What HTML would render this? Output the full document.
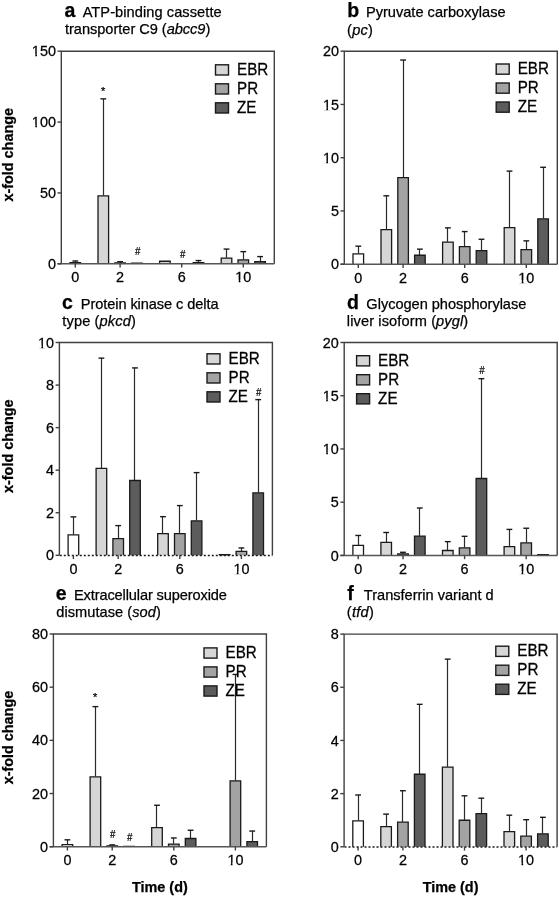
<!DOCTYPE html>
<html><head><meta charset="utf-8"><title>x-fold change charts</title>
<style>
html,body{margin:0;padding:0;background:#fff;}
svg{display:block;will-change:transform;}
text{font-family:"Liberation Sans", sans-serif;fill:#000;stroke:#000;stroke-width:0.25px;}
</style></head>
<body>
<svg width="559" height="898" viewBox="0 0 559 898">
<rect width="559" height="898" fill="#fff"/>
<text id="taL" x="64.53" y="16.9" font-size="19.5" font-weight="bold">a</text>
<text id="ta1" x="82.65" y="16.9" font-size="14.6" textLength="138.98" lengthAdjust="spacing">ATP-binding cassette</text>
<text id="ta2" x="64.99" y="33.7" font-size="14.6" xml:space="preserve" textLength="145.33" lengthAdjust="spacing"><tspan>transporter C9 (</tspan><tspan font-style="italic">abcc9</tspan><tspan>)</tspan></text>
<line x1="75.50" y1="262.38" x2="75.50" y2="260.98" stroke="#2a2a2a" stroke-width="1.2"/>
<line x1="72.40" y1="260.98" x2="78.20" y2="260.98" stroke="#1a1a1a" stroke-width="1.4"/>
<path d="M70.00,263.80 V262.68 H80.60 V263.80" fill="#ffffff" stroke="#1a1a1a" stroke-width="1.3"/>
<line x1="103.50" y1="195.48" x2="103.50" y2="98.84" stroke="#2a2a2a" stroke-width="1.2"/>
<line x1="100.40" y1="98.84" x2="106.20" y2="98.84" stroke="#1a1a1a" stroke-width="1.4"/>
<path d="M98.00,263.80 V195.78 H108.60 V263.80" fill="#d6d6d6" stroke="#1a1a1a" stroke-width="1.3"/>
<line x1="120.50" y1="262.67" x2="120.50" y2="261.69" stroke="#2a2a2a" stroke-width="1.2"/>
<line x1="117.20" y1="261.69" x2="123.00" y2="261.69" stroke="#1a1a1a" stroke-width="1.4"/>
<path d="M114.80,263.80 V262.97 H125.40 V263.80" fill="#a3a3a3" stroke="#1a1a1a" stroke-width="1.3"/>
<path d="M131.60,263.80 V263.11 H142.20 V263.80" fill="#5c5c5c" stroke="#1a1a1a" stroke-width="1.3"/>
<path d="M159.60,263.80 V261.27 H170.20 V263.80" fill="#d6d6d6" stroke="#1a1a1a" stroke-width="1.3"/>
<line x1="198.50" y1="262.38" x2="198.50" y2="260.56" stroke="#2a2a2a" stroke-width="1.2"/>
<line x1="195.60" y1="260.56" x2="201.40" y2="260.56" stroke="#1a1a1a" stroke-width="1.4"/>
<path d="M193.20,263.80 V262.68 H203.80 V263.80" fill="#5c5c5c" stroke="#1a1a1a" stroke-width="1.3"/>
<line x1="226.50" y1="257.85" x2="226.50" y2="249.08" stroke="#2a2a2a" stroke-width="1.2"/>
<line x1="223.60" y1="249.08" x2="229.40" y2="249.08" stroke="#1a1a1a" stroke-width="1.4"/>
<path d="M221.20,263.80 V258.15 H231.80 V263.80" fill="#d6d6d6" stroke="#1a1a1a" stroke-width="1.3"/>
<line x1="243.50" y1="259.55" x2="243.50" y2="251.63" stroke="#2a2a2a" stroke-width="1.2"/>
<line x1="240.40" y1="251.63" x2="246.20" y2="251.63" stroke="#1a1a1a" stroke-width="1.4"/>
<path d="M238.00,263.80 V259.85 H248.60 V263.80" fill="#a3a3a3" stroke="#1a1a1a" stroke-width="1.3"/>
<line x1="260.50" y1="261.39" x2="260.50" y2="256.59" stroke="#2a2a2a" stroke-width="1.2"/>
<line x1="257.20" y1="256.59" x2="263.00" y2="256.59" stroke="#1a1a1a" stroke-width="1.4"/>
<path d="M254.80,263.80 V261.69 H265.40 V263.80" fill="#5c5c5c" stroke="#1a1a1a" stroke-width="1.3"/>
<text x="103.10" y="95.3" font-size="11" text-anchor="middle">*</text>
<text transform="translate(137.60,254.7) scale(0.85,1)" font-size="11" font-style="italic" text-anchor="middle">#</text>
<text transform="translate(182.50,258.3) scale(0.85,1)" font-size="11" font-style="italic" text-anchor="middle">#</text>
<path d="M61.30,263.80 V51.20 H274.30 V263.80" fill="none" stroke="#404040" stroke-width="1.4"/>
<line x1="57.50" y1="263.80" x2="274.30" y2="263.80" stroke="#555" stroke-width="1.5"/>
<line x1="57.50" y1="263.80" x2="61.30" y2="263.80" stroke="#404040" stroke-width="1.4"/>
<g transform="translate(55.90,268.90) scale(1,1.04)"><text x="0" y="0" font-size="14.4" text-anchor="end">0</text></g>
<line x1="57.50" y1="192.93" x2="61.30" y2="192.93" stroke="#404040" stroke-width="1.4"/>
<g transform="translate(55.90,198.03) scale(1,1.04)"><text x="0" y="0" font-size="14.4" text-anchor="end">50</text></g>
<line x1="57.50" y1="122.07" x2="61.30" y2="122.07" stroke="#404040" stroke-width="1.4"/>
<g transform="translate(55.90,127.17) scale(1,1.04)"><text x="0" y="0" font-size="14.4" text-anchor="end">100</text><rect x="-23.93" y="-2.30" width="3.32" height="3.2" fill="#fff"/><rect x="-18.93" y="-2.30" width="3.11" height="3.2" fill="#fff"/></g>
<line x1="57.50" y1="51.20" x2="61.30" y2="51.20" stroke="#404040" stroke-width="1.4"/>
<g transform="translate(55.90,56.30) scale(1,1.04)"><text x="0" y="0" font-size="14.4" text-anchor="end">150</text><rect x="-23.93" y="-2.30" width="3.32" height="3.2" fill="#fff"/><rect x="-18.93" y="-2.30" width="3.11" height="3.2" fill="#fff"/></g>
<line x1="75.30" y1="263.80" x2="75.30" y2="267.60" stroke="#404040" stroke-width="1.4"/>
<g transform="translate(75.30,282.10) scale(1,1.04)"><text x="0" y="0" font-size="14.4" text-anchor="middle">0</text></g>
<line x1="120.10" y1="263.80" x2="120.10" y2="267.60" stroke="#404040" stroke-width="1.4"/>
<g transform="translate(120.10,282.10) scale(1,1.04)"><text x="0" y="0" font-size="14.4" text-anchor="middle">2</text></g>
<line x1="181.70" y1="263.80" x2="181.70" y2="267.60" stroke="#404040" stroke-width="1.4"/>
<g transform="translate(181.70,282.10) scale(1,1.04)"><text x="0" y="0" font-size="14.4" text-anchor="middle">6</text></g>
<line x1="243.30" y1="263.80" x2="243.30" y2="267.60" stroke="#404040" stroke-width="1.4"/>
<g transform="translate(243.30,282.10) scale(1,1.04)"><text x="0" y="0" font-size="14.4" text-anchor="middle">10</text><rect x="-7.91" y="-2.30" width="3.32" height="3.2" fill="#fff"/><rect x="-2.91" y="-2.30" width="3.11" height="3.2" fill="#fff"/></g>
<rect x="215.50" y="64.80" width="13" height="10.2" fill="#d6d6d6" stroke="#1a1a1a" stroke-width="1.4"/>
<text transform="translate(237.00,74.70) scale(1,1.04)" font-size="15.2">EBR</text>
<rect x="215.50" y="83.80" width="13" height="10.2" fill="#a3a3a3" stroke="#1a1a1a" stroke-width="1.4"/>
<text transform="translate(237.00,93.70) scale(1,1.04)" font-size="15.2">PR</text>
<rect x="215.50" y="102.80" width="13" height="10.2" fill="#5c5c5c" stroke="#1a1a1a" stroke-width="1.4"/>
<text transform="translate(237.00,112.70) scale(1,1.04)" font-size="15.2">ZE</text>
<text transform="translate(13.2,154.8) rotate(-90)" text-anchor="middle" font-size="14.4" font-weight="bold">x-fold change</text>
<text id="tbL" x="347.25" y="17.0" font-size="19.5" font-weight="bold">b</text>
<text id="tb1" x="365.90" y="17.0" font-size="14.6" textLength="139.66" lengthAdjust="spacing">Pyruvate carboxylase</text>
<text id="tb2" x="347.09" y="34.5" font-size="14.6" xml:space="preserve" textLength="25.73" lengthAdjust="spacing"><tspan>(</tspan><tspan font-style="italic">pc</tspan><tspan>)</tspan></text>
<line x1="358.50" y1="253.66" x2="358.50" y2="246.18" stroke="#2a2a2a" stroke-width="1.2"/>
<line x1="355.40" y1="246.18" x2="361.20" y2="246.18" stroke="#1a1a1a" stroke-width="1.4"/>
<path d="M353.00,264.20 V253.96 H363.60 V264.20" fill="#ffffff" stroke="#1a1a1a" stroke-width="1.3"/>
<line x1="386.50" y1="229.27" x2="386.50" y2="195.81" stroke="#2a2a2a" stroke-width="1.2"/>
<line x1="383.40" y1="195.81" x2="389.20" y2="195.81" stroke="#1a1a1a" stroke-width="1.4"/>
<path d="M381.00,264.20 V229.57 H391.60 V264.20" fill="#d6d6d6" stroke="#1a1a1a" stroke-width="1.3"/>
<line x1="403.50" y1="177.30" x2="403.50" y2="60.02" stroke="#2a2a2a" stroke-width="1.2"/>
<line x1="400.20" y1="60.02" x2="406.00" y2="60.02" stroke="#1a1a1a" stroke-width="1.4"/>
<path d="M397.80,264.20 V177.60 H408.40 V264.20" fill="#a3a3a3" stroke="#1a1a1a" stroke-width="1.3"/>
<line x1="419.50" y1="254.93" x2="419.50" y2="249.16" stroke="#2a2a2a" stroke-width="1.2"/>
<line x1="417.00" y1="249.16" x2="422.80" y2="249.16" stroke="#1a1a1a" stroke-width="1.4"/>
<path d="M414.60,264.20 V255.23 H425.20 V264.20" fill="#5c5c5c" stroke="#1a1a1a" stroke-width="1.3"/>
<line x1="447.50" y1="241.83" x2="447.50" y2="227.86" stroke="#2a2a2a" stroke-width="1.2"/>
<line x1="445.00" y1="227.86" x2="450.80" y2="227.86" stroke="#1a1a1a" stroke-width="1.4"/>
<path d="M442.60,264.20 V242.13 H453.20 V264.20" fill="#d6d6d6" stroke="#1a1a1a" stroke-width="1.3"/>
<line x1="464.50" y1="246.41" x2="464.50" y2="231.59" stroke="#2a2a2a" stroke-width="1.2"/>
<line x1="461.80" y1="231.59" x2="467.60" y2="231.59" stroke="#1a1a1a" stroke-width="1.4"/>
<path d="M459.40,264.20 V246.71 H470.00 V264.20" fill="#a3a3a3" stroke="#1a1a1a" stroke-width="1.3"/>
<line x1="481.50" y1="250.35" x2="481.50" y2="239.26" stroke="#2a2a2a" stroke-width="1.2"/>
<line x1="478.60" y1="239.26" x2="484.40" y2="239.26" stroke="#1a1a1a" stroke-width="1.4"/>
<path d="M476.20,264.20 V250.66 H486.80 V264.20" fill="#5c5c5c" stroke="#1a1a1a" stroke-width="1.3"/>
<line x1="509.50" y1="227.35" x2="509.50" y2="171.10" stroke="#2a2a2a" stroke-width="1.2"/>
<line x1="506.60" y1="171.10" x2="512.40" y2="171.10" stroke="#1a1a1a" stroke-width="1.4"/>
<path d="M504.20,264.20 V227.65 H514.80 V264.20" fill="#d6d6d6" stroke="#1a1a1a" stroke-width="1.3"/>
<line x1="526.50" y1="249.40" x2="526.50" y2="240.86" stroke="#2a2a2a" stroke-width="1.2"/>
<line x1="523.40" y1="240.86" x2="529.20" y2="240.86" stroke="#1a1a1a" stroke-width="1.4"/>
<path d="M521.00,264.20 V249.70 H531.60 V264.20" fill="#a3a3a3" stroke="#1a1a1a" stroke-width="1.3"/>
<line x1="543.50" y1="218.51" x2="543.50" y2="167.27" stroke="#2a2a2a" stroke-width="1.2"/>
<line x1="540.20" y1="167.27" x2="546.00" y2="167.27" stroke="#1a1a1a" stroke-width="1.4"/>
<path d="M537.80,264.20 V218.81 H548.40 V264.20" fill="#5c5c5c" stroke="#1a1a1a" stroke-width="1.3"/>
<path d="M344.30,264.20 V51.20 H557.30 V264.20" fill="none" stroke="#404040" stroke-width="1.4"/>
<line x1="340.50" y1="264.20" x2="557.30" y2="264.20" stroke="#555" stroke-width="1.5"/>
<line x1="340.50" y1="264.20" x2="344.30" y2="264.20" stroke="#404040" stroke-width="1.4"/>
<g transform="translate(338.90,269.30) scale(1,1.04)"><text x="0" y="0" font-size="14.4" text-anchor="end">0</text></g>
<line x1="340.50" y1="210.95" x2="344.30" y2="210.95" stroke="#404040" stroke-width="1.4"/>
<g transform="translate(338.90,216.05) scale(1,1.04)"><text x="0" y="0" font-size="14.4" text-anchor="end">5</text></g>
<line x1="340.50" y1="157.70" x2="344.30" y2="157.70" stroke="#404040" stroke-width="1.4"/>
<g transform="translate(338.90,162.80) scale(1,1.04)"><text x="0" y="0" font-size="14.4" text-anchor="end">10</text><rect x="-15.92" y="-2.30" width="3.32" height="3.2" fill="#fff"/><rect x="-10.92" y="-2.30" width="3.11" height="3.2" fill="#fff"/></g>
<line x1="340.50" y1="104.45" x2="344.30" y2="104.45" stroke="#404040" stroke-width="1.4"/>
<g transform="translate(338.90,109.55) scale(1,1.04)"><text x="0" y="0" font-size="14.4" text-anchor="end">15</text><rect x="-15.92" y="-2.30" width="3.32" height="3.2" fill="#fff"/><rect x="-10.92" y="-2.30" width="3.11" height="3.2" fill="#fff"/></g>
<line x1="340.50" y1="51.20" x2="344.30" y2="51.20" stroke="#404040" stroke-width="1.4"/>
<g transform="translate(338.90,56.30) scale(1,1.04)"><text x="0" y="0" font-size="14.4" text-anchor="end">20</text></g>
<line x1="358.30" y1="264.20" x2="358.30" y2="268.00" stroke="#404040" stroke-width="1.4"/>
<g transform="translate(358.30,282.50) scale(1,1.04)"><text x="0" y="0" font-size="14.4" text-anchor="middle">0</text></g>
<line x1="403.10" y1="264.20" x2="403.10" y2="268.00" stroke="#404040" stroke-width="1.4"/>
<g transform="translate(403.10,282.50) scale(1,1.04)"><text x="0" y="0" font-size="14.4" text-anchor="middle">2</text></g>
<line x1="464.70" y1="264.20" x2="464.70" y2="268.00" stroke="#404040" stroke-width="1.4"/>
<g transform="translate(464.70,282.50) scale(1,1.04)"><text x="0" y="0" font-size="14.4" text-anchor="middle">6</text></g>
<line x1="526.30" y1="264.20" x2="526.30" y2="268.00" stroke="#404040" stroke-width="1.4"/>
<g transform="translate(526.30,282.50) scale(1,1.04)"><text x="0" y="0" font-size="14.4" text-anchor="middle">10</text><rect x="-7.91" y="-2.30" width="3.32" height="3.2" fill="#fff"/><rect x="-2.91" y="-2.30" width="3.11" height="3.2" fill="#fff"/></g>
<rect x="496.20" y="64.00" width="13" height="10.2" fill="#d6d6d6" stroke="#1a1a1a" stroke-width="1.4"/>
<text transform="translate(517.70,73.90) scale(1,1.04)" font-size="15.2">EBR</text>
<rect x="496.20" y="83.00" width="13" height="10.2" fill="#a3a3a3" stroke="#1a1a1a" stroke-width="1.4"/>
<text transform="translate(517.70,92.90) scale(1,1.04)" font-size="15.2">PR</text>
<rect x="496.20" y="102.00" width="13" height="10.2" fill="#5c5c5c" stroke="#1a1a1a" stroke-width="1.4"/>
<text transform="translate(517.70,111.90) scale(1,1.04)" font-size="15.2">ZE</text>
<text id="tcL" x="62.06" y="309.0" font-size="19.5" font-weight="bold">c</text>
<text id="tc1" x="80.78" y="309.0" font-size="14.6" textLength="137.78" lengthAdjust="spacing">Protein kinase c delta</text>
<text id="tc2" x="62.30" y="325.8" font-size="14.6" xml:space="preserve" textLength="73.46" lengthAdjust="spacing"><tspan>type (</tspan><tspan font-style="italic">pkcd</tspan><tspan>)</tspan></text>
<line x1="73.50" y1="534.66" x2="73.50" y2="516.87" stroke="#2a2a2a" stroke-width="1.2"/>
<line x1="70.50" y1="516.87" x2="76.30" y2="516.87" stroke="#1a1a1a" stroke-width="1.4"/>
<path d="M68.10,555.30 V534.96 H78.70 V555.30" fill="#ffffff" stroke="#1a1a1a" stroke-width="1.3"/>
<line x1="101.50" y1="468.05" x2="101.50" y2="358.12" stroke="#2a2a2a" stroke-width="1.2"/>
<line x1="98.50" y1="358.12" x2="104.30" y2="358.12" stroke="#1a1a1a" stroke-width="1.4"/>
<path d="M96.10,555.30 V468.35 H106.70 V555.30" fill="#d6d6d6" stroke="#1a1a1a" stroke-width="1.3"/>
<line x1="118.50" y1="538.28" x2="118.50" y2="525.60" stroke="#2a2a2a" stroke-width="1.2"/>
<line x1="115.30" y1="525.60" x2="121.10" y2="525.60" stroke="#1a1a1a" stroke-width="1.4"/>
<path d="M112.90,555.30 V538.58 H123.50 V555.30" fill="#a3a3a3" stroke="#1a1a1a" stroke-width="1.3"/>
<line x1="134.50" y1="480.18" x2="134.50" y2="367.91" stroke="#2a2a2a" stroke-width="1.2"/>
<line x1="132.10" y1="367.91" x2="137.90" y2="367.91" stroke="#1a1a1a" stroke-width="1.4"/>
<path d="M129.70,555.30 V480.48 H140.30 V555.30" fill="#5c5c5c" stroke="#1a1a1a" stroke-width="1.3"/>
<line x1="162.50" y1="533.38" x2="162.50" y2="516.66" stroke="#2a2a2a" stroke-width="1.2"/>
<line x1="160.10" y1="516.66" x2="165.90" y2="516.66" stroke="#1a1a1a" stroke-width="1.4"/>
<path d="M157.70,555.30 V533.68 H168.30 V555.30" fill="#d6d6d6" stroke="#1a1a1a" stroke-width="1.3"/>
<line x1="179.50" y1="533.38" x2="179.50" y2="505.59" stroke="#2a2a2a" stroke-width="1.2"/>
<line x1="176.90" y1="505.59" x2="182.70" y2="505.59" stroke="#1a1a1a" stroke-width="1.4"/>
<path d="M174.50,555.30 V533.68 H185.10 V555.30" fill="#a3a3a3" stroke="#1a1a1a" stroke-width="1.3"/>
<line x1="196.50" y1="520.61" x2="196.50" y2="472.61" stroke="#2a2a2a" stroke-width="1.2"/>
<line x1="193.70" y1="472.61" x2="199.50" y2="472.61" stroke="#1a1a1a" stroke-width="1.4"/>
<path d="M191.30,555.30 V520.91 H201.90 V555.30" fill="#5c5c5c" stroke="#1a1a1a" stroke-width="1.3"/>
<path d="M219.30,555.30 V554.75 H229.90 V555.30" fill="#d6d6d6" stroke="#1a1a1a" stroke-width="1.3"/>
<line x1="241.50" y1="551.04" x2="241.50" y2="547.94" stroke="#2a2a2a" stroke-width="1.2"/>
<line x1="238.50" y1="547.94" x2="244.30" y2="547.94" stroke="#1a1a1a" stroke-width="1.4"/>
<path d="M236.10,555.30 V551.34 H246.70 V555.30" fill="#a3a3a3" stroke="#1a1a1a" stroke-width="1.3"/>
<line x1="258.50" y1="492.52" x2="258.50" y2="399.62" stroke="#2a2a2a" stroke-width="1.2"/>
<line x1="255.30" y1="399.62" x2="261.10" y2="399.62" stroke="#1a1a1a" stroke-width="1.4"/>
<path d="M252.90,555.30 V492.82 H263.50 V555.30" fill="#5c5c5c" stroke="#1a1a1a" stroke-width="1.3"/>
<text transform="translate(258.60,395.5) scale(0.85,1)" font-size="11" font-style="italic" text-anchor="middle">#</text>
<path d="M59.40,555.30 V342.50 H272.40 V555.30" fill="none" stroke="#404040" stroke-width="1.4"/>
<line x1="59.40" y1="555.60" x2="272.40" y2="555.60" stroke="#1a1a1a" stroke-width="1.5" stroke-dasharray="2 2" stroke-dashoffset="-0.4"/>
<line x1="55.60" y1="555.30" x2="59.40" y2="555.30" stroke="#404040" stroke-width="1.4"/>
<g transform="translate(54.00,560.40) scale(1,1.04)"><text x="0" y="0" font-size="14.4" text-anchor="end">0</text></g>
<line x1="55.60" y1="512.74" x2="59.40" y2="512.74" stroke="#404040" stroke-width="1.4"/>
<g transform="translate(54.00,517.84) scale(1,1.04)"><text x="0" y="0" font-size="14.4" text-anchor="end">2</text></g>
<line x1="55.60" y1="470.18" x2="59.40" y2="470.18" stroke="#404040" stroke-width="1.4"/>
<g transform="translate(54.00,475.28) scale(1,1.04)"><text x="0" y="0" font-size="14.4" text-anchor="end">4</text></g>
<line x1="55.60" y1="427.62" x2="59.40" y2="427.62" stroke="#404040" stroke-width="1.4"/>
<g transform="translate(54.00,432.72) scale(1,1.04)"><text x="0" y="0" font-size="14.4" text-anchor="end">6</text></g>
<line x1="55.60" y1="385.06" x2="59.40" y2="385.06" stroke="#404040" stroke-width="1.4"/>
<g transform="translate(54.00,390.16) scale(1,1.04)"><text x="0" y="0" font-size="14.4" text-anchor="end">8</text></g>
<line x1="55.60" y1="342.50" x2="59.40" y2="342.50" stroke="#404040" stroke-width="1.4"/>
<g transform="translate(54.00,347.60) scale(1,1.04)"><text x="0" y="0" font-size="14.4" text-anchor="end">10</text><rect x="-15.92" y="-2.30" width="3.32" height="3.2" fill="#fff"/><rect x="-10.92" y="-2.30" width="3.11" height="3.2" fill="#fff"/></g>
<line x1="73.40" y1="555.30" x2="73.40" y2="559.10" stroke="#404040" stroke-width="1.4"/>
<g transform="translate(73.40,573.60) scale(1,1.04)"><text x="0" y="0" font-size="14.4" text-anchor="middle">0</text></g>
<line x1="118.20" y1="555.30" x2="118.20" y2="559.10" stroke="#404040" stroke-width="1.4"/>
<g transform="translate(118.20,573.60) scale(1,1.04)"><text x="0" y="0" font-size="14.4" text-anchor="middle">2</text></g>
<line x1="179.80" y1="555.30" x2="179.80" y2="559.10" stroke="#404040" stroke-width="1.4"/>
<g transform="translate(179.80,573.60) scale(1,1.04)"><text x="0" y="0" font-size="14.4" text-anchor="middle">6</text></g>
<line x1="241.40" y1="555.30" x2="241.40" y2="559.10" stroke="#404040" stroke-width="1.4"/>
<g transform="translate(241.40,573.60) scale(1,1.04)"><text x="0" y="0" font-size="14.4" text-anchor="middle">10</text><rect x="-7.91" y="-2.30" width="3.32" height="3.2" fill="#fff"/><rect x="-2.91" y="-2.30" width="3.11" height="3.2" fill="#fff"/></g>
<rect x="207.00" y="353.80" width="13" height="10.2" fill="#d6d6d6" stroke="#1a1a1a" stroke-width="1.4"/>
<text transform="translate(228.50,363.70) scale(1,1.04)" font-size="15.2">EBR</text>
<rect x="207.00" y="372.80" width="13" height="10.2" fill="#a3a3a3" stroke="#1a1a1a" stroke-width="1.4"/>
<text transform="translate(228.50,382.70) scale(1,1.04)" font-size="15.2">PR</text>
<rect x="207.00" y="391.80" width="13" height="10.2" fill="#5c5c5c" stroke="#1a1a1a" stroke-width="1.4"/>
<text transform="translate(228.50,401.70) scale(1,1.04)" font-size="15.2">ZE</text>
<text transform="translate(13.2,446.2) rotate(-90)" text-anchor="middle" font-size="14.4" font-weight="bold">x-fold change</text>
<text id="tdL" x="347.12" y="309.0" font-size="19.5" font-weight="bold">d</text>
<text id="td1" x="366.37" y="309.0" font-size="14.6" textLength="159.97" lengthAdjust="spacing">Glycogen phosphorylase</text>
<text id="td2" x="346.86" y="326.1" font-size="14.6" xml:space="preserve" textLength="121.33" lengthAdjust="spacing"><tspan>liver isoform (</tspan><tspan font-style="italic">pygl</tspan><tspan>)</tspan></text>
<line x1="358.50" y1="545.07" x2="358.50" y2="535.47" stroke="#2a2a2a" stroke-width="1.2"/>
<line x1="355.30" y1="535.47" x2="361.10" y2="535.47" stroke="#1a1a1a" stroke-width="1.4"/>
<path d="M352.90,555.40 V545.37 H363.50 V555.40" fill="#ffffff" stroke="#1a1a1a" stroke-width="1.3"/>
<line x1="386.50" y1="541.99" x2="386.50" y2="532.49" stroke="#2a2a2a" stroke-width="1.2"/>
<line x1="383.30" y1="532.49" x2="389.10" y2="532.49" stroke="#1a1a1a" stroke-width="1.4"/>
<path d="M380.90,555.40 V542.29 H391.50 V555.40" fill="#d6d6d6" stroke="#1a1a1a" stroke-width="1.3"/>
<line x1="402.50" y1="553.70" x2="402.50" y2="552.29" stroke="#2a2a2a" stroke-width="1.2"/>
<line x1="400.10" y1="552.29" x2="405.90" y2="552.29" stroke="#1a1a1a" stroke-width="1.4"/>
<path d="M397.70,555.40 V554.00 H408.30 V555.40" fill="#a3a3a3" stroke="#1a1a1a" stroke-width="1.3"/>
<line x1="419.50" y1="535.81" x2="419.50" y2="508.01" stroke="#2a2a2a" stroke-width="1.2"/>
<line x1="416.90" y1="508.01" x2="422.70" y2="508.01" stroke="#1a1a1a" stroke-width="1.4"/>
<path d="M414.50,555.40 V536.11 H425.10 V555.40" fill="#5c5c5c" stroke="#1a1a1a" stroke-width="1.3"/>
<line x1="447.50" y1="550.18" x2="447.50" y2="541.65" stroke="#2a2a2a" stroke-width="1.2"/>
<line x1="444.90" y1="541.65" x2="450.70" y2="541.65" stroke="#1a1a1a" stroke-width="1.4"/>
<path d="M442.50,555.40 V550.48 H453.10 V555.40" fill="#d6d6d6" stroke="#1a1a1a" stroke-width="1.3"/>
<line x1="464.50" y1="547.52" x2="464.50" y2="536.33" stroke="#2a2a2a" stroke-width="1.2"/>
<line x1="461.70" y1="536.33" x2="467.50" y2="536.33" stroke="#1a1a1a" stroke-width="1.4"/>
<path d="M459.30,555.40 V547.82 H469.90 V555.40" fill="#a3a3a3" stroke="#1a1a1a" stroke-width="1.3"/>
<line x1="481.50" y1="478.22" x2="481.50" y2="378.67" stroke="#2a2a2a" stroke-width="1.2"/>
<line x1="478.50" y1="378.67" x2="484.30" y2="378.67" stroke="#1a1a1a" stroke-width="1.4"/>
<path d="M476.10,555.40 V478.52 H486.70 V555.40" fill="#5c5c5c" stroke="#1a1a1a" stroke-width="1.3"/>
<line x1="509.50" y1="546.25" x2="509.50" y2="529.41" stroke="#2a2a2a" stroke-width="1.2"/>
<line x1="506.50" y1="529.41" x2="512.30" y2="529.41" stroke="#1a1a1a" stroke-width="1.4"/>
<path d="M504.10,555.40 V546.55 H514.70 V555.40" fill="#d6d6d6" stroke="#1a1a1a" stroke-width="1.3"/>
<line x1="526.50" y1="542.63" x2="526.50" y2="528.24" stroke="#2a2a2a" stroke-width="1.2"/>
<line x1="523.30" y1="528.24" x2="529.10" y2="528.24" stroke="#1a1a1a" stroke-width="1.4"/>
<path d="M520.90,555.40 V542.93 H531.50 V555.40" fill="#a3a3a3" stroke="#1a1a1a" stroke-width="1.3"/>
<path d="M537.70,555.40 V554.64 H548.30 V555.40" fill="#5c5c5c" stroke="#1a1a1a" stroke-width="1.3"/>
<text transform="translate(481.80,373.5) scale(0.85,1)" font-size="11" font-style="italic" text-anchor="middle">#</text>
<path d="M344.20,555.40 V342.50 H557.20 V555.40" fill="none" stroke="#404040" stroke-width="1.4"/>
<line x1="340.40" y1="555.40" x2="557.20" y2="555.40" stroke="#555" stroke-width="1.5"/>
<line x1="340.40" y1="555.40" x2="344.20" y2="555.40" stroke="#404040" stroke-width="1.4"/>
<g transform="translate(338.80,560.50) scale(1,1.04)"><text x="0" y="0" font-size="14.4" text-anchor="end">0</text></g>
<line x1="340.40" y1="502.17" x2="344.20" y2="502.17" stroke="#404040" stroke-width="1.4"/>
<g transform="translate(338.80,507.27) scale(1,1.04)"><text x="0" y="0" font-size="14.4" text-anchor="end">5</text></g>
<line x1="340.40" y1="448.95" x2="344.20" y2="448.95" stroke="#404040" stroke-width="1.4"/>
<g transform="translate(338.80,454.05) scale(1,1.04)"><text x="0" y="0" font-size="14.4" text-anchor="end">10</text><rect x="-15.92" y="-2.30" width="3.32" height="3.2" fill="#fff"/><rect x="-10.92" y="-2.30" width="3.11" height="3.2" fill="#fff"/></g>
<line x1="340.40" y1="395.73" x2="344.20" y2="395.73" stroke="#404040" stroke-width="1.4"/>
<g transform="translate(338.80,400.83) scale(1,1.04)"><text x="0" y="0" font-size="14.4" text-anchor="end">15</text><rect x="-15.92" y="-2.30" width="3.32" height="3.2" fill="#fff"/><rect x="-10.92" y="-2.30" width="3.11" height="3.2" fill="#fff"/></g>
<line x1="340.40" y1="342.50" x2="344.20" y2="342.50" stroke="#404040" stroke-width="1.4"/>
<g transform="translate(338.80,347.60) scale(1,1.04)"><text x="0" y="0" font-size="14.4" text-anchor="end">20</text></g>
<line x1="358.20" y1="555.40" x2="358.20" y2="559.20" stroke="#404040" stroke-width="1.4"/>
<g transform="translate(358.20,573.70) scale(1,1.04)"><text x="0" y="0" font-size="14.4" text-anchor="middle">0</text></g>
<line x1="403.00" y1="555.40" x2="403.00" y2="559.20" stroke="#404040" stroke-width="1.4"/>
<g transform="translate(403.00,573.70) scale(1,1.04)"><text x="0" y="0" font-size="14.4" text-anchor="middle">2</text></g>
<line x1="464.60" y1="555.40" x2="464.60" y2="559.20" stroke="#404040" stroke-width="1.4"/>
<g transform="translate(464.60,573.70) scale(1,1.04)"><text x="0" y="0" font-size="14.4" text-anchor="middle">6</text></g>
<line x1="526.20" y1="555.40" x2="526.20" y2="559.20" stroke="#404040" stroke-width="1.4"/>
<g transform="translate(526.20,573.70) scale(1,1.04)"><text x="0" y="0" font-size="14.4" text-anchor="middle">10</text><rect x="-7.91" y="-2.30" width="3.32" height="3.2" fill="#fff"/><rect x="-2.91" y="-2.30" width="3.11" height="3.2" fill="#fff"/></g>
<rect x="356.60" y="355.70" width="13" height="10.2" fill="#d6d6d6" stroke="#1a1a1a" stroke-width="1.4"/>
<text transform="translate(378.10,365.60) scale(1,1.04)" font-size="15.2">EBR</text>
<rect x="356.60" y="374.70" width="13" height="10.2" fill="#a3a3a3" stroke="#1a1a1a" stroke-width="1.4"/>
<text transform="translate(378.10,384.60) scale(1,1.04)" font-size="15.2">PR</text>
<rect x="356.60" y="393.70" width="13" height="10.2" fill="#5c5c5c" stroke="#1a1a1a" stroke-width="1.4"/>
<text transform="translate(378.10,403.60) scale(1,1.04)" font-size="15.2">ZE</text>
<text id="teL" x="55.67" y="599.7" font-size="19.5" font-weight="bold">e</text>
<text id="te1" x="73.97" y="599.7" font-size="14.6" textLength="152.93" lengthAdjust="spacing">Extracellular superoxide</text>
<text id="te2" x="56.30" y="616.7" font-size="14.6" xml:space="preserve" textLength="104.47" lengthAdjust="spacing"><tspan>dismutase (</tspan><tspan font-style="italic">sod</tspan><tspan>)</tspan></text>
<line x1="67.50" y1="844.39" x2="67.50" y2="839.82" stroke="#2a2a2a" stroke-width="1.2"/>
<line x1="64.50" y1="839.82" x2="70.30" y2="839.82" stroke="#1a1a1a" stroke-width="1.4"/>
<path d="M62.10,846.70 V844.69 H72.70 V846.70" fill="#ffffff" stroke="#1a1a1a" stroke-width="1.3"/>
<line x1="95.50" y1="776.51" x2="95.50" y2="706.62" stroke="#2a2a2a" stroke-width="1.2"/>
<line x1="92.50" y1="706.62" x2="98.30" y2="706.62" stroke="#1a1a1a" stroke-width="1.4"/>
<path d="M90.10,846.70 V776.81 H100.70 V846.70" fill="#d6d6d6" stroke="#1a1a1a" stroke-width="1.3"/>
<line x1="112.50" y1="845.50" x2="112.50" y2="844.87" stroke="#2a2a2a" stroke-width="1.2"/>
<line x1="109.30" y1="844.87" x2="115.10" y2="844.87" stroke="#1a1a1a" stroke-width="1.4"/>
<path d="M106.90,846.70 V845.80 H117.50 V846.70" fill="#a3a3a3" stroke="#1a1a1a" stroke-width="1.3"/>
<path d="M123.70,846.70 V846.40 H134.30 V846.70" fill="#5c5c5c" stroke="#1a1a1a" stroke-width="1.3"/>
<line x1="156.50" y1="827.29" x2="156.50" y2="805.26" stroke="#2a2a2a" stroke-width="1.2"/>
<line x1="154.10" y1="805.26" x2="159.90" y2="805.26" stroke="#1a1a1a" stroke-width="1.4"/>
<path d="M151.70,846.70 V827.59 H162.30 V846.70" fill="#d6d6d6" stroke="#1a1a1a" stroke-width="1.3"/>
<line x1="173.50" y1="843.78" x2="173.50" y2="837.96" stroke="#2a2a2a" stroke-width="1.2"/>
<line x1="170.90" y1="837.96" x2="176.70" y2="837.96" stroke="#1a1a1a" stroke-width="1.4"/>
<path d="M168.50,846.70 V844.08 H179.10 V846.70" fill="#a3a3a3" stroke="#1a1a1a" stroke-width="1.3"/>
<line x1="190.50" y1="838.19" x2="190.50" y2="830.25" stroke="#2a2a2a" stroke-width="1.2"/>
<line x1="187.70" y1="830.25" x2="193.50" y2="830.25" stroke="#1a1a1a" stroke-width="1.4"/>
<path d="M185.30,846.70 V838.49 H195.90 V846.70" fill="#5c5c5c" stroke="#1a1a1a" stroke-width="1.3"/>
<line x1="235.50" y1="780.50" x2="235.50" y2="674.45" stroke="#2a2a2a" stroke-width="1.2"/>
<line x1="232.50" y1="674.45" x2="238.30" y2="674.45" stroke="#1a1a1a" stroke-width="1.4"/>
<path d="M230.10,846.70 V780.80 H240.70 V846.70" fill="#a3a3a3" stroke="#1a1a1a" stroke-width="1.3"/>
<line x1="252.50" y1="841.38" x2="252.50" y2="831.05" stroke="#2a2a2a" stroke-width="1.2"/>
<line x1="249.30" y1="831.05" x2="255.10" y2="831.05" stroke="#1a1a1a" stroke-width="1.4"/>
<path d="M246.90,846.70 V841.68 H257.50 V846.70" fill="#5c5c5c" stroke="#1a1a1a" stroke-width="1.3"/>
<text x="95.05" y="701.3" font-size="11" text-anchor="middle">*</text>
<text transform="translate(112.70,838.2) scale(0.85,1)" font-size="11" font-style="italic" text-anchor="middle">#</text>
<text transform="translate(129.70,841.1) scale(0.85,1)" font-size="11" font-style="italic" text-anchor="middle">#</text>
<path d="M53.40,846.70 V634.00 H266.40 V846.70" fill="none" stroke="#404040" stroke-width="1.4"/>
<line x1="49.60" y1="846.70" x2="266.40" y2="846.70" stroke="#555" stroke-width="1.5"/>
<line x1="49.60" y1="846.70" x2="53.40" y2="846.70" stroke="#404040" stroke-width="1.4"/>
<g transform="translate(48.00,851.80) scale(1,1.04)"><text x="0" y="0" font-size="14.4" text-anchor="end">0</text></g>
<line x1="49.60" y1="793.53" x2="53.40" y2="793.53" stroke="#404040" stroke-width="1.4"/>
<g transform="translate(48.00,798.63) scale(1,1.04)"><text x="0" y="0" font-size="14.4" text-anchor="end">20</text></g>
<line x1="49.60" y1="740.35" x2="53.40" y2="740.35" stroke="#404040" stroke-width="1.4"/>
<g transform="translate(48.00,745.45) scale(1,1.04)"><text x="0" y="0" font-size="14.4" text-anchor="end">40</text></g>
<line x1="49.60" y1="687.17" x2="53.40" y2="687.17" stroke="#404040" stroke-width="1.4"/>
<g transform="translate(48.00,692.27) scale(1,1.04)"><text x="0" y="0" font-size="14.4" text-anchor="end">60</text></g>
<line x1="49.60" y1="634.00" x2="53.40" y2="634.00" stroke="#404040" stroke-width="1.4"/>
<g transform="translate(48.00,639.10) scale(1,1.04)"><text x="0" y="0" font-size="14.4" text-anchor="end">80</text></g>
<line x1="67.40" y1="846.70" x2="67.40" y2="850.50" stroke="#404040" stroke-width="1.4"/>
<g transform="translate(67.40,865.00) scale(1,1.04)"><text x="0" y="0" font-size="14.4" text-anchor="middle">0</text></g>
<line x1="112.20" y1="846.70" x2="112.20" y2="850.50" stroke="#404040" stroke-width="1.4"/>
<g transform="translate(112.20,865.00) scale(1,1.04)"><text x="0" y="0" font-size="14.4" text-anchor="middle">2</text></g>
<line x1="173.80" y1="846.70" x2="173.80" y2="850.50" stroke="#404040" stroke-width="1.4"/>
<g transform="translate(173.80,865.00) scale(1,1.04)"><text x="0" y="0" font-size="14.4" text-anchor="middle">6</text></g>
<line x1="235.40" y1="846.70" x2="235.40" y2="850.50" stroke="#404040" stroke-width="1.4"/>
<g transform="translate(235.40,865.00) scale(1,1.04)"><text x="0" y="0" font-size="14.4" text-anchor="middle">10</text><rect x="-7.91" y="-2.30" width="3.32" height="3.2" fill="#fff"/><rect x="-2.91" y="-2.30" width="3.11" height="3.2" fill="#fff"/></g>
<rect x="204.00" y="647.90" width="13" height="10.2" fill="#d6d6d6" stroke="#1a1a1a" stroke-width="1.4"/>
<text transform="translate(225.50,657.80) scale(1,1.04)" font-size="15.2">EBR</text>
<rect x="204.00" y="666.90" width="13" height="10.2" fill="#a3a3a3" stroke="#1a1a1a" stroke-width="1.4"/>
<text transform="translate(225.50,676.80) scale(1,1.04)" font-size="15.2">PR</text>
<rect x="204.00" y="685.90" width="13" height="10.2" fill="#5c5c5c" stroke="#1a1a1a" stroke-width="1.4"/>
<text transform="translate(225.50,695.80) scale(1,1.04)" font-size="15.2">ZE</text>
<text transform="translate(13.2,737.6) rotate(-90)" text-anchor="middle" font-size="14.4" font-weight="bold">x-fold change</text>
<text x="159.9" y="891.7" text-anchor="middle" font-size="14.4" font-weight="bold">Time (d)</text>
<text id="tfL" x="347.14" y="600.1" font-size="19.5" font-weight="bold">f</text>
<text id="tf1" x="363.84" y="600.1" font-size="14.6" textLength="129.77" lengthAdjust="spacing">Transferrin variant d</text>
<text id="tf2" x="346.77" y="616.8" font-size="14.6" xml:space="preserve" textLength="27.04" lengthAdjust="spacing"><tspan>(</tspan><tspan font-style="italic">tfd</tspan><tspan>)</tspan></text>
<line x1="358.50" y1="820.48" x2="358.50" y2="794.99" stroke="#2a2a2a" stroke-width="1.2"/>
<line x1="355.20" y1="794.99" x2="361.00" y2="794.99" stroke="#1a1a1a" stroke-width="1.4"/>
<path d="M352.80,846.80 V820.78 H363.40 V846.80" fill="#ffffff" stroke="#1a1a1a" stroke-width="1.3"/>
<line x1="386.50" y1="826.33" x2="386.50" y2="814.13" stroke="#2a2a2a" stroke-width="1.2"/>
<line x1="383.20" y1="814.13" x2="389.00" y2="814.13" stroke="#1a1a1a" stroke-width="1.4"/>
<path d="M380.80,846.80 V826.63 H391.40 V846.80" fill="#d6d6d6" stroke="#1a1a1a" stroke-width="1.3"/>
<line x1="402.50" y1="821.81" x2="402.50" y2="790.73" stroke="#2a2a2a" stroke-width="1.2"/>
<line x1="400.00" y1="790.73" x2="405.80" y2="790.73" stroke="#1a1a1a" stroke-width="1.4"/>
<path d="M397.60,846.80 V822.11 H408.20 V846.80" fill="#a3a3a3" stroke="#1a1a1a" stroke-width="1.3"/>
<line x1="419.50" y1="773.95" x2="419.50" y2="704.33" stroke="#2a2a2a" stroke-width="1.2"/>
<line x1="416.80" y1="704.33" x2="422.60" y2="704.33" stroke="#1a1a1a" stroke-width="1.4"/>
<path d="M414.40,846.80 V774.25 H425.00 V846.80" fill="#5c5c5c" stroke="#1a1a1a" stroke-width="1.3"/>
<line x1="447.50" y1="766.77" x2="447.50" y2="659.13" stroke="#2a2a2a" stroke-width="1.2"/>
<line x1="444.80" y1="659.13" x2="450.60" y2="659.13" stroke="#1a1a1a" stroke-width="1.4"/>
<path d="M442.40,846.80 V767.07 H453.00 V846.80" fill="#d6d6d6" stroke="#1a1a1a" stroke-width="1.3"/>
<line x1="464.50" y1="819.95" x2="464.50" y2="795.79" stroke="#2a2a2a" stroke-width="1.2"/>
<line x1="461.60" y1="795.79" x2="467.40" y2="795.79" stroke="#1a1a1a" stroke-width="1.4"/>
<path d="M459.20,846.80 V820.25 H469.80 V846.80" fill="#a3a3a3" stroke="#1a1a1a" stroke-width="1.3"/>
<line x1="481.50" y1="813.30" x2="481.50" y2="798.18" stroke="#2a2a2a" stroke-width="1.2"/>
<line x1="478.40" y1="798.18" x2="484.20" y2="798.18" stroke="#1a1a1a" stroke-width="1.4"/>
<path d="M476.00,846.80 V813.60 H486.60 V846.80" fill="#5c5c5c" stroke="#1a1a1a" stroke-width="1.3"/>
<line x1="509.50" y1="831.38" x2="509.50" y2="815.19" stroke="#2a2a2a" stroke-width="1.2"/>
<line x1="506.40" y1="815.19" x2="512.20" y2="815.19" stroke="#1a1a1a" stroke-width="1.4"/>
<path d="M504.00,846.80 V831.68 H514.60 V846.80" fill="#d6d6d6" stroke="#1a1a1a" stroke-width="1.3"/>
<line x1="526.50" y1="835.90" x2="526.50" y2="819.71" stroke="#2a2a2a" stroke-width="1.2"/>
<line x1="523.20" y1="819.71" x2="529.00" y2="819.71" stroke="#1a1a1a" stroke-width="1.4"/>
<path d="M520.80,846.80 V836.20 H531.40 V846.80" fill="#a3a3a3" stroke="#1a1a1a" stroke-width="1.3"/>
<line x1="542.50" y1="833.51" x2="542.50" y2="817.32" stroke="#2a2a2a" stroke-width="1.2"/>
<line x1="540.00" y1="817.32" x2="545.80" y2="817.32" stroke="#1a1a1a" stroke-width="1.4"/>
<path d="M537.60,846.80 V833.81 H548.20 V846.80" fill="#5c5c5c" stroke="#1a1a1a" stroke-width="1.3"/>
<path d="M344.10,846.80 V634.10 H557.10 V846.80" fill="none" stroke="#404040" stroke-width="1.4"/>
<line x1="344.10" y1="847.10" x2="557.10" y2="847.10" stroke="#1a1a1a" stroke-width="1.5" stroke-dasharray="2 2" stroke-dashoffset="-0.4"/>
<line x1="340.30" y1="846.80" x2="344.10" y2="846.80" stroke="#404040" stroke-width="1.4"/>
<g transform="translate(338.70,851.90) scale(1,1.04)"><text x="0" y="0" font-size="14.4" text-anchor="end">0</text></g>
<line x1="340.30" y1="793.62" x2="344.10" y2="793.62" stroke="#404040" stroke-width="1.4"/>
<g transform="translate(338.70,798.73) scale(1,1.04)"><text x="0" y="0" font-size="14.4" text-anchor="end">2</text></g>
<line x1="340.30" y1="740.45" x2="344.10" y2="740.45" stroke="#404040" stroke-width="1.4"/>
<g transform="translate(338.70,745.55) scale(1,1.04)"><text x="0" y="0" font-size="14.4" text-anchor="end">4</text></g>
<line x1="340.30" y1="687.27" x2="344.10" y2="687.27" stroke="#404040" stroke-width="1.4"/>
<g transform="translate(338.70,692.38) scale(1,1.04)"><text x="0" y="0" font-size="14.4" text-anchor="end">6</text></g>
<line x1="340.30" y1="634.10" x2="344.10" y2="634.10" stroke="#404040" stroke-width="1.4"/>
<g transform="translate(338.70,639.20) scale(1,1.04)"><text x="0" y="0" font-size="14.4" text-anchor="end">8</text></g>
<line x1="358.10" y1="846.80" x2="358.10" y2="850.60" stroke="#404040" stroke-width="1.4"/>
<g transform="translate(358.10,865.10) scale(1,1.04)"><text x="0" y="0" font-size="14.4" text-anchor="middle">0</text></g>
<line x1="402.90" y1="846.80" x2="402.90" y2="850.60" stroke="#404040" stroke-width="1.4"/>
<g transform="translate(402.90,865.10) scale(1,1.04)"><text x="0" y="0" font-size="14.4" text-anchor="middle">2</text></g>
<line x1="464.50" y1="846.80" x2="464.50" y2="850.60" stroke="#404040" stroke-width="1.4"/>
<g transform="translate(464.50,865.10) scale(1,1.04)"><text x="0" y="0" font-size="14.4" text-anchor="middle">6</text></g>
<line x1="526.10" y1="846.80" x2="526.10" y2="850.60" stroke="#404040" stroke-width="1.4"/>
<g transform="translate(526.10,865.10) scale(1,1.04)"><text x="0" y="0" font-size="14.4" text-anchor="middle">10</text><rect x="-7.91" y="-2.30" width="3.32" height="3.2" fill="#fff"/><rect x="-2.91" y="-2.30" width="3.11" height="3.2" fill="#fff"/></g>
<rect x="495.80" y="646.20" width="13" height="10.2" fill="#d6d6d6" stroke="#1a1a1a" stroke-width="1.4"/>
<text transform="translate(517.30,656.10) scale(1,1.04)" font-size="15.2">EBR</text>
<rect x="495.80" y="665.20" width="13" height="10.2" fill="#a3a3a3" stroke="#1a1a1a" stroke-width="1.4"/>
<text transform="translate(517.30,675.10) scale(1,1.04)" font-size="15.2">PR</text>
<rect x="495.80" y="684.20" width="13" height="10.2" fill="#5c5c5c" stroke="#1a1a1a" stroke-width="1.4"/>
<text transform="translate(517.30,694.10) scale(1,1.04)" font-size="15.2">ZE</text>
<text x="450.6" y="891.8" text-anchor="middle" font-size="14.4" font-weight="bold">Time (d)</text>
</svg>
</body></html>
